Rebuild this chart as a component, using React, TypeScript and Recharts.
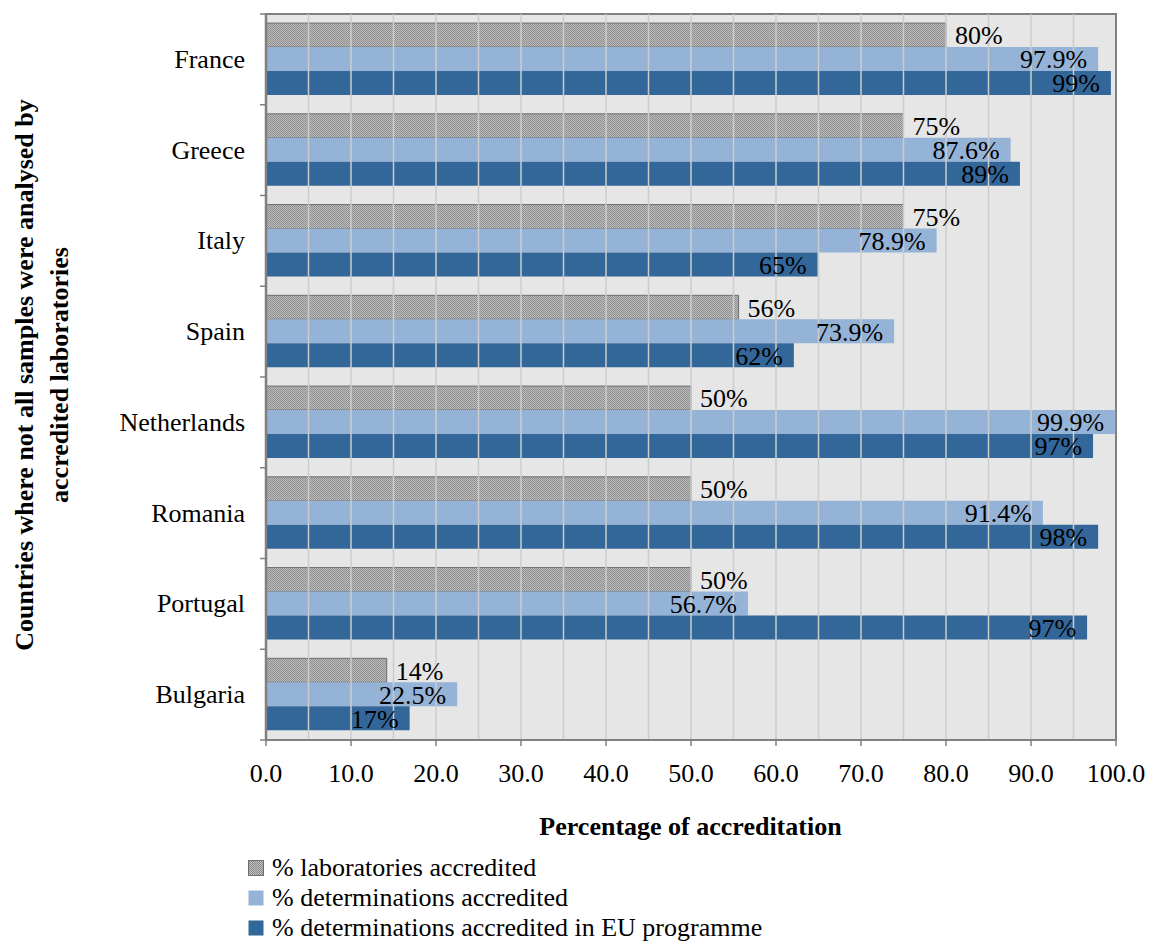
import { BarChart, Bar, XAxis, YAxis, CartesianGrid, LabelList, ReferenceLine, ReferenceArea } from 'recharts';

const countries = ['France', 'Greece', 'Italy', 'Spain', 'Netherlands', 'Romania', 'Portugal', 'Bulgaria'];
const labsAccredited = [80, 75, 75, 55.6, 50, 50, 50, 14.2];
const determinationsAccredited = [97.9, 87.6, 78.9, 73.9, 99.9, 91.4, 56.7, 22.5];
const euProgramme = [99.4, 88.7, 64.9, 62.1, 97.3, 97.9, 96.6, 16.9];
const xTicks = [0, 10, 20, 30, 40, 50, 60, 70, 80, 90, 100];
const gridLines = [5, 10, 15, 20, 25, 30, 35, 40, 45, 50, 55, 60, 65, 70, 75, 80, 85, 90, 95];

const seriesNames = [
  '% laboratories accredited',
  '% determinations accredited',
  '% determinations accredited in EU programme',
];

const data = countries.map((c, i) => ({
  country: c,
  labs: labsAccredited[i],
  det: determinationsAccredited[i],
  eu: euProgramme[i],
}));

const FONT = '"Liberation Serif", "Times New Roman", serif';
const FS = 26;
const W = 1150;
const H = 942;
const X_AXIS_H = 60;
const M = { top: 14, right: 34, bottom: 202 - X_AXIS_H, left: 0 };
const AXIS_W = 266;
const PLOT_H = H - 202 - 14;
const BAND = PLOT_H / countries.length;

const CountryTick = (props: any) => {
  const { x, y, payload, index } = props;
  const ax = AXIS_W;
  return (
    <g>
      <text x={ax - 21} y={y} textAnchor="end" dominantBaseline="central" fontFamily={FONT} fontSize={FS} fill="#000">
        {payload.value}
      </text>
      <line x1={ax - 6} x2={ax} y1={y - BAND / 2} y2={y - BAND / 2} stroke="#808080" strokeWidth={1.5} />
      {index === countries.length - 1 && (
        <line x1={ax - 6} x2={ax} y1={y + BAND / 2} y2={y + BAND / 2} stroke="#808080" strokeWidth={1.5} />
      )}
    </g>
  );
};

const labelStyle = { fontFamily: FONT, fontSize: FS, fill: '#000' };

export default function App() {
  return (
    <div style={{ position: 'absolute', left: 0, top: 0, width: W, height: H, background: '#fff', fontFamily: FONT }}>
      <BarChart
        width={W}
        height={H}
        data={data}
        layout="vertical"
        margin={M}
        barCategoryGap="10%"
        barGap={0}
      >
        <defs>
          <pattern id="dots" width="2" height="2" patternUnits="userSpaceOnUse">
            <rect width="2" height="2" fill="#bdbdbd" />
            <rect width="1" height="1" fill="#8e8e8e" />
            <rect x="1" y="1" width="1" height="1" fill="#8e8e8e" />
          </pattern>
        </defs>
        <CartesianGrid horizontal={false} vertical={false} fill="#e6e6e6" />
        {gridLines.map((v) => (
          <ReferenceLine key={v} x={v} stroke="#cccccc" strokeWidth={1.5} />
        ))}
        <XAxis
          type="number"
          domain={[0, 100]}
          ticks={xTicks}
          height={X_AXIS_H}
          tickFormatter={(v: number) => v.toFixed(1)}
          tick={{ fontFamily: FONT, fontSize: FS, fill: '#000' }}
          tickSize={6}
          tickMargin={18}
          axisLine={{ stroke: '#808080', strokeWidth: 2 }}
          tickLine={{ stroke: '#808080', strokeWidth: 1.5 }}
          allowDataOverflow
        />
        <YAxis
          type="category"
          dataKey="country"
          width={AXIS_W}
          tick={<CountryTick />}
          tickLine={false}
          axisLine={{ stroke: '#808080', strokeWidth: 2.5 }}
          interval={0}
        />
        <Bar dataKey="labs" fill="url(#dots)" stroke="#6e6e6e" strokeWidth={1} isAnimationActive={false}>
          <LabelList dataKey="labs" position="right" offset={9} style={labelStyle}
            formatter={(v: any) => `${Math.round(Number(v))}%`} />
        </Bar>
        <Bar dataKey="det" fill="#95b3d7" isAnimationActive={false}>
          <LabelList dataKey="det" position="insideRight" offset={11} style={labelStyle}
            formatter={(v: any) => `${Number(v).toFixed(1)}%`} />
        </Bar>
        <Bar dataKey="eu" fill="#336699" isAnimationActive={false}>
          <LabelList dataKey="eu" position="insideRight" offset={11} style={labelStyle}
            formatter={(v: any) => `${Math.round(Number(v))}%`} />
        </Bar>
        <ReferenceArea x1={0} x2={100} fill="none" stroke="#808080" strokeWidth={2} ifOverflow="visible" />
      </BarChart>

      <div style={{ position: 'absolute', left: 0, width: W, top: 811, textAlign: 'center', paddingLeft: 231, boxSizing: 'border-box', fontWeight: 'bold', fontSize: FS, lineHeight: '32px' }}>
        Percentage of accreditation
      </div>

      <div style={{ position: 'absolute', left: 42, top: 375, width: 0, height: 0 }}>
        <div style={{ position: 'absolute', transform: 'translate(-50%, -50%) rotate(-90deg)', whiteSpace: 'nowrap', textAlign: 'center', fontWeight: 'bold', fontSize: FS, lineHeight: '35px' }}>
          Countries where not all samples were analysed by<br />accredited laboratories
        </div>
      </div>

      <div style={{ position: 'absolute', left: 248, top: 853, fontSize: FS }}>
        {seriesNames.map((name, i) => (
          <div key={name} style={{ display: 'flex', alignItems: 'center', height: 30 }}>
            <svg width={16} height={16} style={{ marginRight: 8 }}>
              <rect x={0.5} y={0.5} width={15} height={15}
                fill={i === 0 ? 'url(#dots)' : i === 1 ? '#95b3d7' : '#336699'}
                stroke={i === 0 ? '#6e6e6e' : 'none'} />
            </svg>
            <span>{name}</span>
          </div>
        ))}
      </div>
    </div>
  );
}
